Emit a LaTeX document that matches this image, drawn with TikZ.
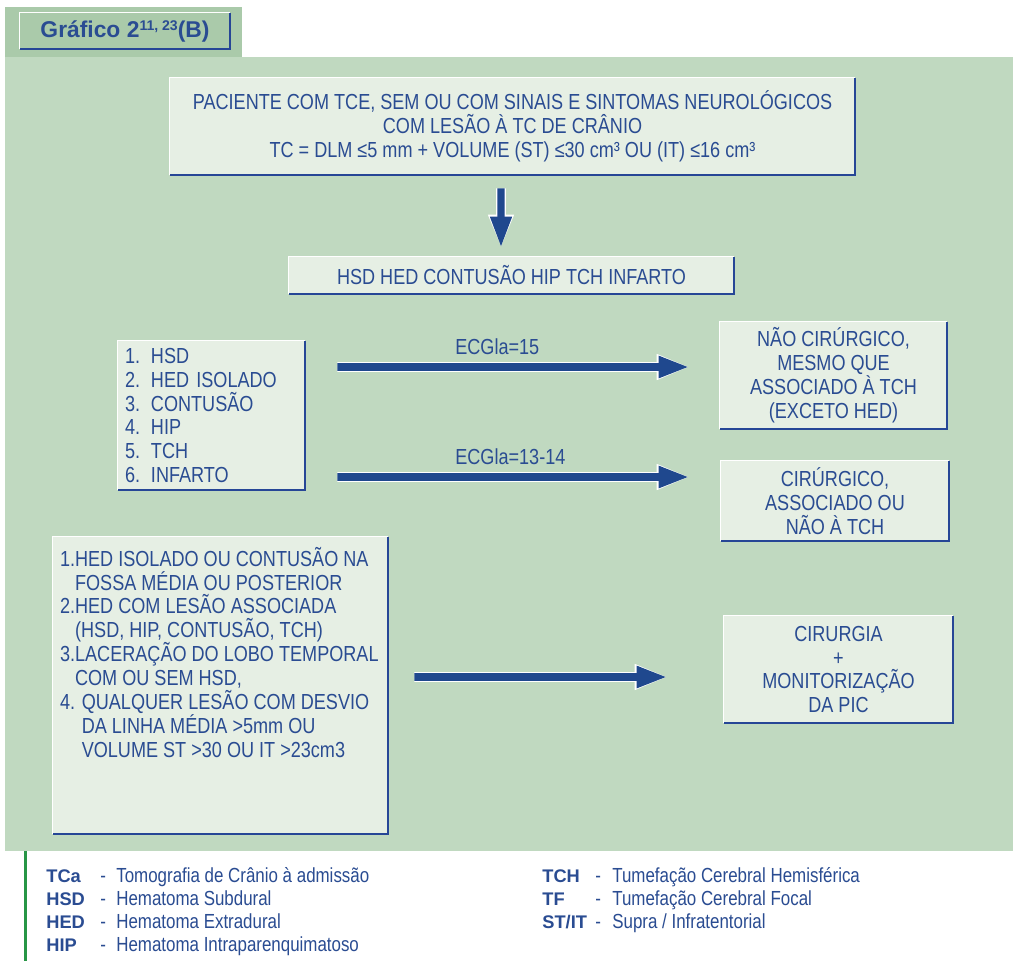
\documentclass[tikz,border=0pt]{standalone}
\usepackage{fontspec}
\setmainfont{Liberation Sans}[FakeStretch=0.83]
\newfontfamily\headfont{Liberation Sans}
\usetikzlibrary{arrows.meta,positioning,calc}
\definecolor{fieldgreen}{RGB}{192,217,192}
\definecolor{tabgreen}{RGB}{170,202,170}
\definecolor{panelgrey}{RGB}{230,239,228}
\definecolor{inkblue}{RGB}{42,76,146}
\definecolor{arrowblue}{RGB}{31,72,142}
\definecolor{edgeblue}{RGB}{38,70,150}
\definecolor{rulegreen}{RGB}{40,150,70}
\newcommand\boxfont{\fontsize{12.4}{13.6}\selectfont}
\newcommand\legfont{\fontsize{11.6}{13}\selectfont}

\begin{document}
\begin{tikzpicture}[x=0.02cm, y=-0.02cm,
    panel/.style={rectangle, fill=panelgrey, text=inkblue, align=center, inner sep=0pt, font=\boxfont},
    bigarrow/.style={draw=arrowblue, line width=4.5pt, -{Triangle[length=0.62cm, width=0.4cm]},
        preaction={draw=white, line width=5.6pt, -{Triangle[length=0.66cm, width=0.47cm]}}},
    ecglabel/.style={text=inkblue, font=\boxfont, inner sep=0pt, anchor=base west},
    legabbr/.style={text=inkblue, font=\headfont\bfseries\fontsize{10.4}{12}\selectfont, inner sep=0pt, anchor=base west},
    legtext/.style={text=inkblue, font=\legfont, inner sep=0pt, anchor=base west}]

    \useasboundingbox (0,0) rectangle (1013,961);
    \fill[white] (0,0) rectangle (1013,961);
    % backgrounds
    \fill[tabgreen] (5,7) rectangle (242,57);
    \fill[fieldgreen] (5,57) rectangle (1013,851);
    \draw[rulegreen, line width=0.06cm] (25,851) -- (25,961);

    % title tab
    \node[panel, fill=tabgreen, minimum width=4.2cm, minimum height=0.72cm, font=\headfont\bfseries\fontsize{13}{15}\selectfont] (title) at (125,31)
        {Gráfico 2\raisebox{0.5ex}{\fontsize{8}{9}\selectfont 11, 23}(B)};

    % boxes
    \node[panel, minimum width=13.7cm, minimum height=1.94cm] (patient) at (512.5,126.5)
        {PACIENTE COM TCE, SEM OU COM SINAIS E SINTOMAS NEUROLÓGICOS\\
         COM LESÃO À TC DE CRÂNIO\\
         TC = DLM ≤5 mm + VOLUME (ST) ≤30 cm³ OU (IT) ≤16 cm³};
    \node[panel, minimum width=8.9cm, minimum height=0.74cm] (types) at (511.5,275.5)
        {HSD HED CONTUSÃO HIP TCH INFARTO};
    \node[panel, align=left, text width=3.46cm, inner xsep=0.14cm, minimum height=2.98cm] (list) at (211.5,415.5)
        {1. HSD\\ 2. HED ISOLADO\\ 3. CONTUSÃO\\ 4. HIP\\ 5. TCH\\ 6. INFARTO};
    \node[panel, minimum width=4.54cm, minimum height=2.14cm] (nocir) at (833.5,375.5)
        {NÃO CIRÚRGICO,\\ MESMO QUE\\ ASSOCIADO À TCH\\ (EXCETO HED)};
    \node[panel, minimum width=4.56cm, minimum height=1.6cm] (cir) at (835,501)
        {CIRÚRGICO,\\ ASSOCIADO OU\\ NÃO À TCH};
    \node[panel, minimum width=6.7cm, minimum height=5.94cm] (surg) at (220.5,685.5) {};
    \node[text=inkblue, font=\boxfont, align=left, inner sep=0pt, anchor=north west] (surgtext) at ($(surg.north west)+(7,10)$)
        {1.HED ISOLADO OU CONTUSÃO NA\\
         \phantom{1.}FOSSA MÉDIA OU POSTERIOR\\
         2.HED COM LESÃO ASSOCIADA\\
         \phantom{2.}(HSD, HIP, CONTUSÃO, TCH)\\
         3.LACERAÇÃO DO LOBO TEMPORAL\\
         \phantom{3.}COM OU SEM HSD,\\
         4. QUALQUER LESÃO COM DESVIO\\
         \phantom{4. }DA LINHA MÉDIA >5mm OU\\
         \phantom{4. }VOLUME ST >30 OU IT >23cm3};
    \node[panel, minimum width=4.58cm, minimum height=2.14cm] (pic) at (838.5,669.5)
        {CIRURGIA\\ +\\ MONITORIZAÇÃO\\ DA PIC};

    % raised edges
    \foreach \b in {title,patient,types,list,nocir,cir,surg,pic} {
        \draw[white, line width=0.6pt] (\b.south west) -- (\b.north west) -- (\b.north east);
        \draw[edgeblue, line width=1.2pt] (\b.north east) -- (\b.south east) -- (\b.south west);
    }

    % arrows
    \draw[bigarrow, line width=4pt, shorten <=0.26cm, shorten >=0.18cm] ([xshift=-0.23cm]patient.south) -- ([xshift=-0.21cm]types.north);
    \draw[bigarrow, shorten <=0.64cm, shorten >=0.6cm] ([yshift=0.97cm]list.east) -- ([yshift=0.17cm]nocir.west);
    \draw[bigarrow, shorten <=0.64cm, shorten >=0.62cm] ([yshift=-1.23cm]list.east) -- ([yshift=0.48cm]cir.west);
    \draw[bigarrow, shorten <=0.52cm, shorten >=1.12cm] ([yshift=0.17cm]surg.east) -- ([yshift=-0.15cm]pic.west);
    \node[ecglabel] (ecga) at (455,354) {ECGla=15};
    \node[ecglabel] (ecgb) at (455,464) {ECGla=13-14};

    % legend
    \foreach \ab/\de [count=\i] in {TCa/Tomografia de Crânio à admissão, HSD/Hematoma Subdural,
        HED/Hematoma Extradural, HIP/Hematoma Intraparenquimatoso} {
        \node[legabbr] (la\i) at (46,859+23*\i) {\ab};
        \node[legtext] (ld\i) at (100,859+23*\i) {-};
        \node[legtext] (lt\i) at (116,859+23*\i) {\de};
    }
    \foreach \ab/\de [count=\i] in {TCH/{Tumefação Cerebral Hemisférica}, TF/{Tumefação Cerebral Focal},
        {ST/IT}/{Supra / Infratentorial}} {
        \node[legabbr] (ra\i) at (542,859+23*\i) {\ab};
        \node[legtext] (rd\i) at (595,859+23*\i) {-};
        \node[legtext] (rt\i) at (612,859+23*\i) {\de};
    }
\end{tikzpicture}
\end{document}
